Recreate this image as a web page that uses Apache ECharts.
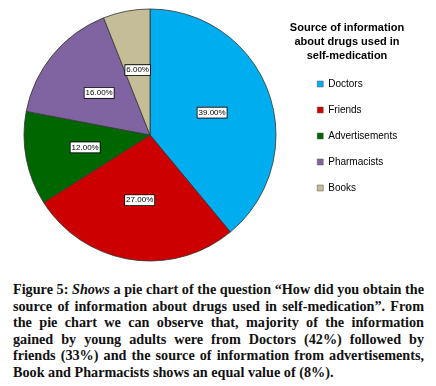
<!DOCTYPE html>
<html>
<head>
<meta charset="utf-8">
<script src="https://cdn.jsdelivr.net/npm/echarts@6/dist/echarts.min.js"></script>
<style>
  html, body { margin: 0; padding: 0; background: #fff; }
  #chart { position: absolute; left: 0; top: 0; width: 436px; height: 272px; }
  #caption {
    position: absolute; left: 13px; top: 281px; width: 411px;
    font-family: "Liberation Serif", serif; font-weight: bold;
    font-size: 14.2px; line-height: 16.6px; color: #111;
  }
  #caption div { text-align: justify; text-align-last: justify; white-space: nowrap; }
  #caption div.last { text-align-last: left; }
</style>
</head>
<body>
<div id="chart"></div>
<div id="caption">
  <div>Figure 5: <i>Shows</i> a pie chart of the question “How did you obtain the</div>
  <div>source of information about drugs used in self-medication”. From</div>
  <div>the pie chart we can observe that, majority of the information</div>
  <div>gained by young adults were from Doctors (42%) followed by</div>
  <div>friends (33%) and the source of information from advertisements,</div>
  <div class="last">Book and Pharmacists shows an equal value of (8%).</div>
</div>
<script>
// data
var categories = ['Doctors', 'Friends', 'Advertisements', 'Pharmacists', 'Books']
var values = [39, 27, 12, 16, 6]
var colors = ['#00AEEF', '#CC0000', '#006600', '#8064A2', '#C4BD97']

var chart = echarts.init(document.getElementById('chart'))
chart.setOption({
  animation: false,
  color: colors,
  graphic: [
    {
      type: 'text',
      left: 288,
      top: 21,
      style: {
        text: 'Source of information\nabout drugs used in\nself-medication',
        x: 0,
        width: 118,
        align: 'center',
        textAlign: 'center',
        font: 'bold 11px Arial, "Liberation Sans", sans-serif',
        lineHeight: 14,
        fill: '#000'
      }
    }
  ],
  legend: {
    orient: 'vertical',
    left: 312,
    top: 74,
    itemWidth: 6,
    itemHeight: 6,
    itemGap: 16,
    icon: 'rect',
    data: categories,
    itemStyle: { borderColor: '#555', borderWidth: 0.5 },
    textStyle: {
      fontFamily: 'Arial, "Liberation Sans", sans-serif',
      fontSize: 10,
      color: '#000'
    }
  },
  series: [
    {
      type: 'pie',
      center: [150, 135],
      radius: 126,
      startAngle: 90,
      clockwise: true,
      data: categories.map(function (name, i) {
        return { name: name, value: values[i] }
      }),
      itemStyle: { borderColor: '#333', borderWidth: 0.8 },
      label: {
        position: 'inside',
        formatter: function (p) {
          return p.value.toFixed(2) + '%'
        },
        fontFamily: 'Arial, "Liberation Sans", sans-serif',
        fontSize: 8,
        color: '#000',
        backgroundColor: '#fff',
        borderColor: '#000',
        borderWidth: 0.8,
        padding: [1, 1]
      },
      labelLine: { show: false },
      emphasis: { disabled: true }
    }
  ]
})
</script>
</body>
</html>
